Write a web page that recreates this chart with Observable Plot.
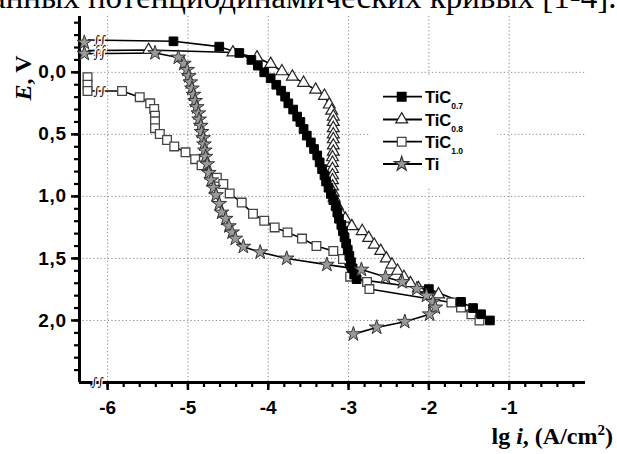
<!DOCTYPE html>
<html><head><meta charset="utf-8">
<script src="https://cdn.jsdelivr.net/npm/d3@7"></script>
<script src="https://cdn.jsdelivr.net/npm/@observablehq/plot@0.6"></script>
<style>
body{margin:0;background:#fff;width:617px;height:454px;overflow:hidden;position:relative;}
#chart{position:absolute;left:0;top:0;}
#overlay{position:absolute;left:0;top:0;pointer-events:none;}
#chart g[aria-label="y-axis tick label"] text{letter-spacing:0.8px;}
</style></head><body>
<div id="chart"></div>
<svg id="overlay" width="617" height="454"></svg>
<script>
// ---- data (lg i, E) ----
const tic07X = [-6.24,-5.18,-4.61,-4.36,-4.21,-4.13,-4.05,-3.97,-3.90,-3.84,-3.79,-3.75,-3.69,-3.64,-3.60,-3.56,-3.52,-3.47,-3.43,-3.39,-3.36,-3.33,-3.30,-3.28,-3.25,-3.22,-3.19,-3.16,-3.14,-3.12,-3.09,-3.07,-3.05,-3.03,-3.01,-2.99,-2.97,-2.95,-2.93,-2.90,-2.00,-1.60,-1.45,-1.35,-1.24];
const tic07E = [-0.26,-0.25,-0.207,-0.156,-0.10,-0.054,0.0,0.048,0.10,0.148,0.196,0.25,0.30,0.357,0.40,0.457,0.51,0.565,0.618,0.67,0.726,0.78,0.83,0.88,0.93,0.98,1.03,1.08,1.13,1.18,1.23,1.28,1.33,1.38,1.43,1.48,1.53,1.58,1.63,1.667,1.747,1.85,1.90,1.95,2.0];
const tic08X = [-6.24,-5.49,-4.44,-4.14,-3.97,-3.83,-3.70,-3.56,-3.41,-3.30,-3.24,-3.21,-3.19,-3.19,-3.19,-3.19,-3.19,-3.19,-3.19,-3.20,-3.20,-3.20,-3.20,-3.20,-3.20,-3.19,-3.18,-3.14,-3.10,-3.04,-2.96,-2.83,-2.75,-2.68,-2.60,-2.53,-2.46,-2.39,-2.31,-2.23,-2.13,-1.88];
const tic08E = [-0.175,-0.18,-0.16,-0.12,-0.067,-0.008,0.035,0.085,0.14,0.19,0.26,0.31,0.357,0.40,0.45,0.50,0.54,0.59,0.64,0.685,0.73,0.78,0.83,0.87,0.92,0.97,1.01,1.075,1.13,1.18,1.24,1.28,1.335,1.39,1.44,1.50,1.55,1.60,1.65,1.70,1.74,1.79];
const tic10X = [-6.25,-6.25,-6.25,-5.82,-5.60,-5.47,-5.42,-5.41,-5.41,-5.41,-5.35,-5.26,-5.17,-5.03,-4.91,-4.83,-4.64,-4.56,-4.48,-4.33,-4.19,-4.05,-3.92,-3.76,-3.58,-3.40,-3.19,-3.07,-2.98,-2.77,-2.74,-1.72,-1.60,-1.47,-1.37];
const tic10E = [0.04,0.10,0.15,0.15,0.20,0.25,0.295,0.35,0.395,0.45,0.497,0.545,0.597,0.645,0.70,0.75,0.85,0.90,0.976,1.05,1.14,1.196,1.25,1.29,1.34,1.40,1.44,1.505,1.647,1.69,1.747,1.855,1.895,1.95,2.0];
const tiX = [-6.29,-6.29,-5.41,-5.12,-5.05,-5.01,-4.99,-4.97,-4.95,-4.93,-4.91,-4.89,-4.87,-4.86,-4.84,-4.83,-4.81,-4.80,-4.79,-4.78,-4.76,-4.74,-4.71,-4.68,-4.65,-4.61,-4.58,-4.53,-4.49,-4.45,-4.41,-4.31,-4.10,-3.77,-3.27,-2.84,-2.54,-2.33,-2.15,-2.03,-1.95,-1.92,-1.99,-2.30,-2.65,-2.94];
const tiE = [-0.24,-0.15,-0.156,-0.12,-0.07,-0.02,0.03,0.08,0.13,0.18,0.23,0.28,0.33,0.38,0.43,0.48,0.53,0.58,0.63,0.68,0.74,0.81,0.87,0.93,0.99,1.06,1.13,1.18,1.24,1.29,1.34,1.405,1.45,1.50,1.55,1.59,1.65,1.69,1.745,1.80,1.85,1.895,1.95,2.01,2.056,2.11];

const seriesNames = ["TiC0.7","TiC0.8","TiC1.0","Ti"];
const legendBase = ["TiC","TiC","TiC","Ti"];
const legendSub = ["0.7","0.8","1.0",""];

const xTicks = [-6,-5,-4,-3,-2,-1];
const xTickLabels = ["-6","-5","-4","-3","-2","-1"];
const yTicks = [0,0.5,1,1.5,2];
const yTickLabels = ["0,0","0,5","1,0","1,5","2,0"];
const xMinor = d3.range(-6.2,-0.1,0.2).map(v=>+v.toFixed(1));
const yMinor = d3.range(-0.4,2.45,0.1).map(v=>+v.toFixed(1));
const xDomain = [-6.35,-0.05];
const yDomain = [2.5,-0.45];
const breakX = -6.1;

// ---- build rows ----
const mk = (xs, es, name) => xs.map((x,i)=>({x, e: es[i], name, i}));
const s07 = mk(tic07X, tic07E, seriesNames[0]);
const s08 = mk(tic08X, tic08E, seriesNames[1]);
const s10 = mk(tic10X, tic10E, seriesNames[2]);
const sTi = mk(tiX, tiE, seriesNames[3]);
const all = [s07,s08,s10,sTi];
const breaks = all.map(s => { const left = s.filter(d=>d.x < breakX); return {x: breakX, e: left[left.length-1].e}; });

const lineOpt = {x:"x", y:"e", stroke:"#000", strokeWidth:1.6};
const grid = {stroke:"#888", strokeWidth:1, strokeDasharray:"1.2,2.4"};
const brk = {x:"x", y:"e", text: ()=>"∫∫", fontSize: 12, fontFamily: "DejaVu Serif", fontStyle:"italic", fill:"#000", stroke:"#fff", strokeWidth: 2.5};

const chart = Plot.plot({
  width: 617, height: 454,
  marginLeft: 79, marginRight: 32, marginTop: 16, marginBottom: 72,
  style: {fontFamily: "'Liberation Sans', Arial, sans-serif", background: "#fff"},
  x: {domain: xDomain},
  y: {domain: yDomain},
  marks: [
    Plot.ruleX(xTicks, {x: d=>d, ...grid}),
    Plot.ruleY(yTicks, {y: d=>d, ...grid}),
    Plot.axisX(xMinor, {tickSize: 5, strokeWidth: 2.2, text: null, label: null}),
    Plot.axisX(xTicks, {tickSize: 8, strokeWidth: 2.5, tickPadding: 10, fontSize: 19, fontWeight: "bold", tickFormat: d => xTickLabels[xTicks.indexOf(d)], label: null}),
    Plot.axisY(yMinor, {tickSize: 5, strokeWidth: 2.2, text: null, label: null}),
    Plot.axisY(yTicks, {tickSize: 8, strokeWidth: 2.5, tickPadding: 4.5, fontSize: 19, fontWeight: "bold", tickFormat: d => yTickLabels[yTicks.indexOf(d)], label: null}),
    Plot.ruleY([yDomain[0]], {strokeWidth: 3}),
    Plot.ruleX([xDomain[0]], {strokeWidth: 3}),
    Plot.line(s10, lineOpt),
    Plot.line(s08, lineOpt),
    Plot.line(s07, lineOpt),
    Plot.line(sTi, lineOpt),
    Plot.text(breaks, brk),
    Plot.text([{x: -6.13, e: yDomain[0]}], brk),
    Plot.dot(s10, {x:"x", y:"e", symbol:"square", r: 4.9, fill:"#fff", stroke:"#444", strokeWidth: 1.3}),
    Plot.dot(s08.filter(d=>d.i>0), {x:"x", y:"e", symbol:"triangle", r: 4.4, fill:"#fff", stroke:"#222", strokeWidth: 1.2}),
    Plot.dot(s07.filter(d=>d.i>0), {x:"x", y:"e", symbol:"square", r: 4.9, fill:"#000", stroke:"#000", strokeWidth: 1}),
    Plot.dot(sTi, {x:"x", y:"e", symbol:"star", r: 4.6, fill:"#9a9a9a", stroke:"#333", strokeWidth: 1})
  ]
});
document.getElementById("chart").appendChild(chart);

// ---- overlay: caption, axis titles, legend ----
const ov = d3.select("#overlay");
ov.append("text").attr("x", -9).attr("y", 8).attr("font-family","'Liberation Serif', serif").attr("font-size", 33)
  .text("анных потенциодинамических кривых [1-4].");
const yt = ov.append("text").attr("transform","translate(31,78) rotate(-90)").attr("text-anchor","middle")
  .attr("font-family","'Liberation Serif', serif").attr("font-weight","bold").attr("font-size", 24);
yt.append("tspan").attr("font-style","italic").text("E");
yt.append("tspan").text(", V");
const xt = ov.append("text").attr("x", 613).attr("y", 444).attr("text-anchor","end")
  .attr("font-family","'Liberation Serif', serif").attr("font-weight","bold").attr("font-size", 24);
xt.append("tspan").text("lg ");
xt.append("tspan").attr("font-style","italic").text("i");
xt.append("tspan").text(", (A/cm");
xt.append("tspan").attr("dy", -9).attr("font-size", 15).text("2");
xt.append("tspan").attr("dy", 9).text(")");

const lg = ov.append("g").attr("transform","translate(370,77)");
lg.append("rect").attr("width",127).attr("height",110).attr("fill","#fff");
const rowY = [19.7, 42.5, 64.7, 87];
const symStyle = [
  {t: d3.symbolSquare, s: Math.PI*4.9*4.9, fill:"#000", stroke:"#000"},
  {t: d3.symbolTriangle, s: Math.PI*4.4*4.4, fill:"#fff", stroke:"#222"},
  {t: d3.symbolSquare, s: Math.PI*4.9*4.9, fill:"#fff", stroke:"#444"},
  {t: d3.symbolStar, s: Math.PI*4.6*4.6, fill:"#9a9a9a", stroke:"#333"}
];
seriesNames.forEach((n,k)=>{
  const y = rowY[k];
  lg.append("line").attr("x1",13).attr("x2",52).attr("y1",y).attr("y2",y).attr("stroke","#000").attr("stroke-width",1.8);
  lg.append("path").attr("d", d3.symbol(symStyle[k].t, symStyle[k].s)()).attr("transform",`translate(31.7,${y})`)
    .attr("fill", symStyle[k].fill).attr("stroke", symStyle[k].stroke).attr("stroke-width",1.2);
  const t = lg.append("text").attr("x",55).attr("y",y+6).attr("font-family","'Liberation Sans', Arial, sans-serif").attr("font-weight","bold").attr("font-size",16.5);
  t.append("tspan").text(legendBase[k]);
  if (legendSub[k]) t.append("tspan").attr("dy",6).attr("font-size",8.5).text(legendSub[k]);
});
</script>
</body></html>
